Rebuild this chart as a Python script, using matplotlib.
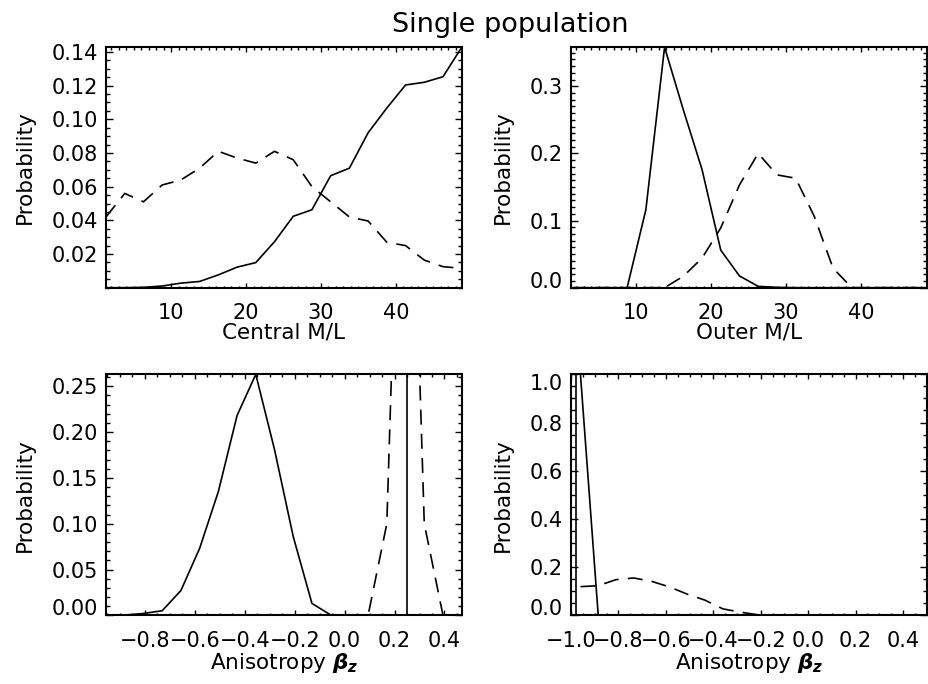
import matplotlib
matplotlib.use("Agg")
import matplotlib.pyplot as plt
from matplotlib.ticker import MultipleLocator

plt.rcParams['font.family'] = ['DejaVu Sans']
plt.rcParams['mathtext.fontset'] = 'custom'
plt.rcParams['mathtext.rm'] = 'DejaVu Sans'
plt.rcParams['mathtext.it'] = 'DejaVu Sans:italic:bold'
plt.rcParams['mathtext.bf'] = 'DejaVu Sans:bold'

# M/L grid (top row)
ml_grid = [1.3, 3.8, 6.3, 8.8, 11.3, 13.8, 16.3, 18.8, 21.3, 23.8,
           26.3, 28.8, 31.3, 33.8, 36.3, 38.8, 41.3, 43.8, 46.3, 48.8]

central_solid = [0.0, 0.0, 0.0002, 0.001, 0.0027, 0.0037, 0.0076, 0.0122, 0.0149, 0.0273,
                 0.0424, 0.0463, 0.0665, 0.071, 0.092, 0.1067, 0.1204, 0.122, 0.1253, 0.1428]
central_dash = [0.042, 0.056, 0.051, 0.061, 0.064, 0.071, 0.081, 0.077, 0.074, 0.081,
                0.076, 0.060, 0.051, 0.042, 0.0396, 0.027, 0.025, 0.0164, 0.0125, 0.0115]

outer_solid = [0.0, 0.0, 0.0, 0.0, 0.116, 0.358, 0.265, 0.176, 0.056, 0.0175,
               0.002, 0.0005, 0.0, 0.0, 0.0, 0.0, 0.0, 0.0, 0.0, 0.0]
outer_dash = [0.0, 0.0, 0.0, 0.0, 0.0, 0.0, 0.017, 0.044, 0.089, 0.153,
              0.200, 0.168, 0.163, 0.106, 0.029, 0.0, 0.0, 0.0, 0.0, 0.0]

# anisotropy grids (bottom row)
beta_grid = [-0.956, -0.881, -0.806, -0.731, -0.656, -0.581, -0.506, -0.431, -0.356, -0.281,
             -0.206, -0.131, -0.056, 0.019, 0.094, 0.169, 0.244, 0.319, 0.394, 0.469]
beta1_solid = [0.0, 0.0003, 0.002, 0.005, 0.027, 0.073, 0.135, 0.218, 0.263, 0.181,
               0.086, 0.013, 0.0004, 0.0, 0.0, 0.0, 0.0, 0.0, 0.0, 0.0]
beta1_dash = [0.0, 0.0, 0.0, 0.0, 0.0, 0.0, 0.0, 0.0, 0.0, 0.0,
              0.0, 0.0, 0.0, 0.0, 0.0, 0.10, 0.76, 0.10, 0.0, 0.0]
beta1_true = 0.25

beta2_grid = [-0.96, -0.885, -0.81, -0.735, -0.66, -0.585, -0.51, -0.435, -0.36, -0.285,
              -0.21, -0.135, -0.06, 0.015, 0.09, 0.165, 0.24, 0.315, 0.39, 0.465]
beta2_solid = [1.0, 0.0, 0.0, 0.0, 0.0, 0.0, 0.0, 0.0, 0.0, 0.0,
               0.0, 0.0, 0.0, 0.0, 0.0, 0.0, 0.0, 0.0, 0.0, 0.0]
beta2_dash = [0.119, 0.123, 0.148, 0.155, 0.141, 0.118, 0.088, 0.063, 0.027, 0.013,
              0.002, 0.0, 0.0, 0.0, 0.0, 0.0, 0.0, 0.0, 0.0, 0.0]
beta2_true = -0.98

beta_ticks = [-1.0, -0.8, -0.6, -0.4, -0.2, 0.0, 0.2, 0.4]
beta_ticklabels = ['\u22121.0', '\u22120.8', '\u22120.6', '\u22120.4', '\u22120.2',
                   '0.0', '0.2', '0.4']

DASH = (9, 5.5)
LABEL_SIZE = 15.5


def style_axes(ax, xmaj, xmin, ymaj, ymin):
    for s in ax.spines.values():
        s.set_linewidth(1.5)
    ax.xaxis.set_major_locator(MultipleLocator(xmaj))
    ax.xaxis.set_minor_locator(MultipleLocator(xmin))
    ax.yaxis.set_minor_locator(MultipleLocator(ymin))
    ax.tick_params(axis='both', which='both', direction='in', top=True, right=True,
                   labelsize=15, colors='black')
    ax.tick_params(axis='x', which='major', length=3.5, width=1, pad=11)
    ax.tick_params(axis='x', which='minor', length=1.8, width=1)
    ax.tick_params(axis='y', which='major', length=5.2, width=1, pad=6)
    ax.tick_params(axis='y', which='minor', length=2.6, width=1)
    ax.set_ylabel('Probability', fontsize=LABEL_SIZE, labelpad=12)


fig = plt.figure(figsize=(9.29, 6.84), dpi=100)
fig.patch.set_facecolor('white')

w = 0.3829
ax1 = fig.add_axes([0.1141, 0.5794, w, 0.3515])
ax2 = fig.add_axes([0.6146, 0.5794, w, 0.3515])
ax3 = fig.add_axes([0.1141, 0.1004, w, 0.3523])
ax4 = fig.add_axes([0.6146, 0.1004, w, 0.3523])

# Central M/L
ax1.plot(ml_grid, central_solid, color='black', lw=1.2)
ax1.plot(ml_grid, central_dash, color='black', lw=1.2, dashes=DASH)
style_axes(ax1, 10, 1, 0.02, 0.005)
ax1.set_xlim(1.3, 48.8)
ax1.set_ylim(0, 0.1428)
ax1.set_yticks([0.02, 0.04, 0.06, 0.08, 0.10, 0.12, 0.14])
ax1.set_yticklabels(['0.02', '0.04', '0.06', '0.08', '0.10', '0.12', '0.14'])
ax1.set_xlabel('Central M/L', fontsize=LABEL_SIZE, labelpad=0)

# Outer M/L
ax2.plot(ml_grid, outer_solid, color='black', lw=1.2)
ax2.plot(ml_grid, outer_dash, color='black', lw=1.2, dashes=DASH)
style_axes(ax2, 10, 1, 0.1, 0.01)
ax2.set_xlim(1.3, 48.8)
ax2.set_ylim(0, 0.358)
ax2.set_yticks([0.0, 0.1, 0.2, 0.3])
ax2.set_yticklabels(['0.0', '0.1', '0.2', '0.3'])
ax2.set_xlabel('Outer M/L', fontsize=LABEL_SIZE, labelpad=0)

# Anisotropy, first population
ax3.plot(beta_grid, beta1_solid, color='black', lw=1.2)
ax3.plot(beta_grid, beta1_dash, color='black', lw=1.2, dashes=DASH)
ax3.axvline(beta1_true, color='black', lw=1.2)
style_axes(ax3, 0.2, 0.05, 0.05, 0.01)
ax3.set_xticks(beta_ticks)
ax3.set_xticklabels(beta_ticklabels)
ax3.set_xlim(-0.956, 0.469)
ax3.set_ylim(0, 0.263)
ax3.set_yticks([0.0, 0.05, 0.10, 0.15, 0.20, 0.25])
ax3.set_yticklabels(['0.00', '0.05', '0.10', '0.15', '0.20', '0.25'])
ax3.set_xlabel(r'Anisotropy $\beta_z$', fontsize=LABEL_SIZE, labelpad=0)

# Anisotropy, second population
ax4.plot(beta2_grid, beta2_solid, color='black', lw=1.2)
ax4.plot(beta2_grid, beta2_dash, color='black', lw=1.2, dashes=DASH)
ax4.axvline(beta2_true, color='black', lw=1.2)
style_axes(ax4, 0.2, 0.05, 0.2, 0.05)
ax4.set_xticks(beta_ticks)
ax4.set_xticklabels(beta_ticklabels)
ax4.set_xlim(-1.0, 0.5)
ax4.set_ylim(0, 1.0)
ax4.set_yticks([0.0, 0.2, 0.4, 0.6, 0.8, 1.0])
ax4.set_yticklabels(['0.0', '0.2', '0.4', '0.6', '0.8', '1.0'])
ax4.set_xlabel(r'Anisotropy $\beta_z$', fontsize=LABEL_SIZE, labelpad=0)

# labels at the ends of the axis are pulled inside, as in the original
for ax in (ax2, ax3, ax4):
    ax.yaxis.get_major_ticks()[0].label1.set_verticalalignment('baseline')
ax4.yaxis.get_major_ticks()[-1].label1.set_verticalalignment('top')

fig.text(0.549, 0.9635, 'Single population', ha='center', va='center', fontsize=19.5)

fig.savefig('out.png', dpi=100)
